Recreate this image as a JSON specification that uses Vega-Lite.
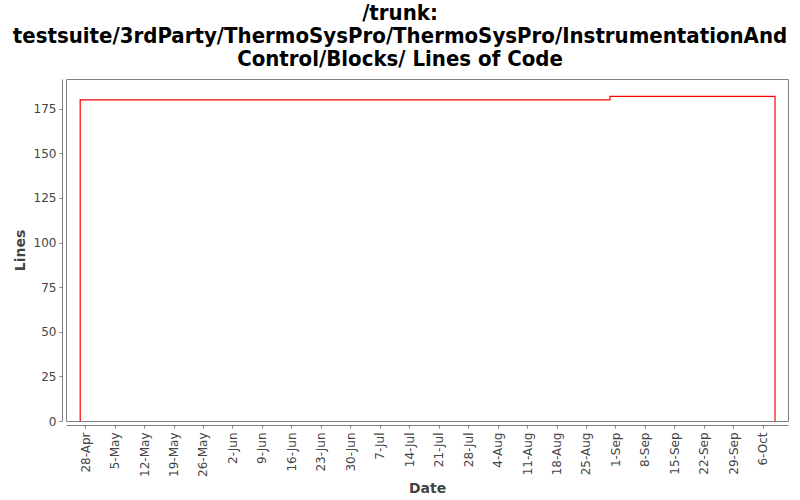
{
  "$schema": "https://vega.github.io/schema/vega-lite/v6.json",
  "width": 722,
  "height": 342,
  "autosize": {"type": "none"},
  "padding": {"left": 66, "top": 79, "right": 12, "bottom": 79},
  "background": "white",
  "title": {
    "text": [
      "/trunk:",
      "testsuite/3rdParty/ThermoSysPro/ThermoSysPro/InstrumentationAnd",
      "Control/Blocks/ Lines of Code"
    ],
    "font": "DejaVu Sans Condensed",
    "fontSize": 22,
    "fontWeight": "bold",
    "color": "black",
    "anchor": "middle",
    "dx": -27,
    "offset": 8,
    "lineHeight": 23
  },
  "data": {
    "values": [
      {"i": 0, "date": "2013-04-26T20:00:00Z", "lines": 0},
      {"i": 1, "date": "2013-04-26T20:00:00Z", "lines": 180},
      {"i": 2, "date": "2013-08-30T17:00:00Z", "lines": 182},
      {"i": 3, "date": "2013-10-08T22:00:00Z", "lines": 0}
    ]
  },
  "mark": {
    "type": "line",
    "interpolate": "step-after",
    "color": "#ff0000",
    "strokeWidth": 1.2
  },
  "encoding": {
    "x": {
      "field": "date",
      "type": "temporal",
      "scale": {
        "type": "utc",
        "domain": [
          {"year": 2013, "month": 4, "date": 23, "hours": 11, "utc": true},
          {"year": 2013, "month": 10, "date": 12, "utc": true}
        ]
      },
      "axis": {
        "title": "Date",
        "format": "%-d-%b",
        "tickCount": {"interval": "week", "step": 1},
        "labelAngle": 270,
        "labelAlign": "right",
        "labelBaseline": "middle",
        "offset": 4,
        "labelPadding": 4,
        "titlePadding": 5,
        "grid": false
      }
    },
    "y": {
      "field": "lines",
      "type": "quantitative",
      "scale": {"domain": [0, 191.7], "nice": false},
      "axis": {
        "title": "Lines",
        "values": [0, 25, 50, 75, 100, 125, 150, 175],
        "offset": 4,
        "labelPadding": 3,
        "titlePadding": 6,
        "grid": false
      }
    },
    "order": {"field": "i"}
  },
  "config": {
    "view": {"stroke": "#808080", "strokeWidth": 1},
    "axis": {
      "domainColor": "#808080",
      "tickColor": "#808080",
      "tickSize": 3,
      "labelColor": "#444444",
      "labelFont": "DejaVu Sans",
      "labelFontSize": 12,
      "titleColor": "#444444",
      "titleFont": "DejaVu Sans",
      "titleFontSize": 14,
      "titleFontWeight": "bold",
      "labelFlush": false,
      "labelOverlap": false
    }
  }
}
